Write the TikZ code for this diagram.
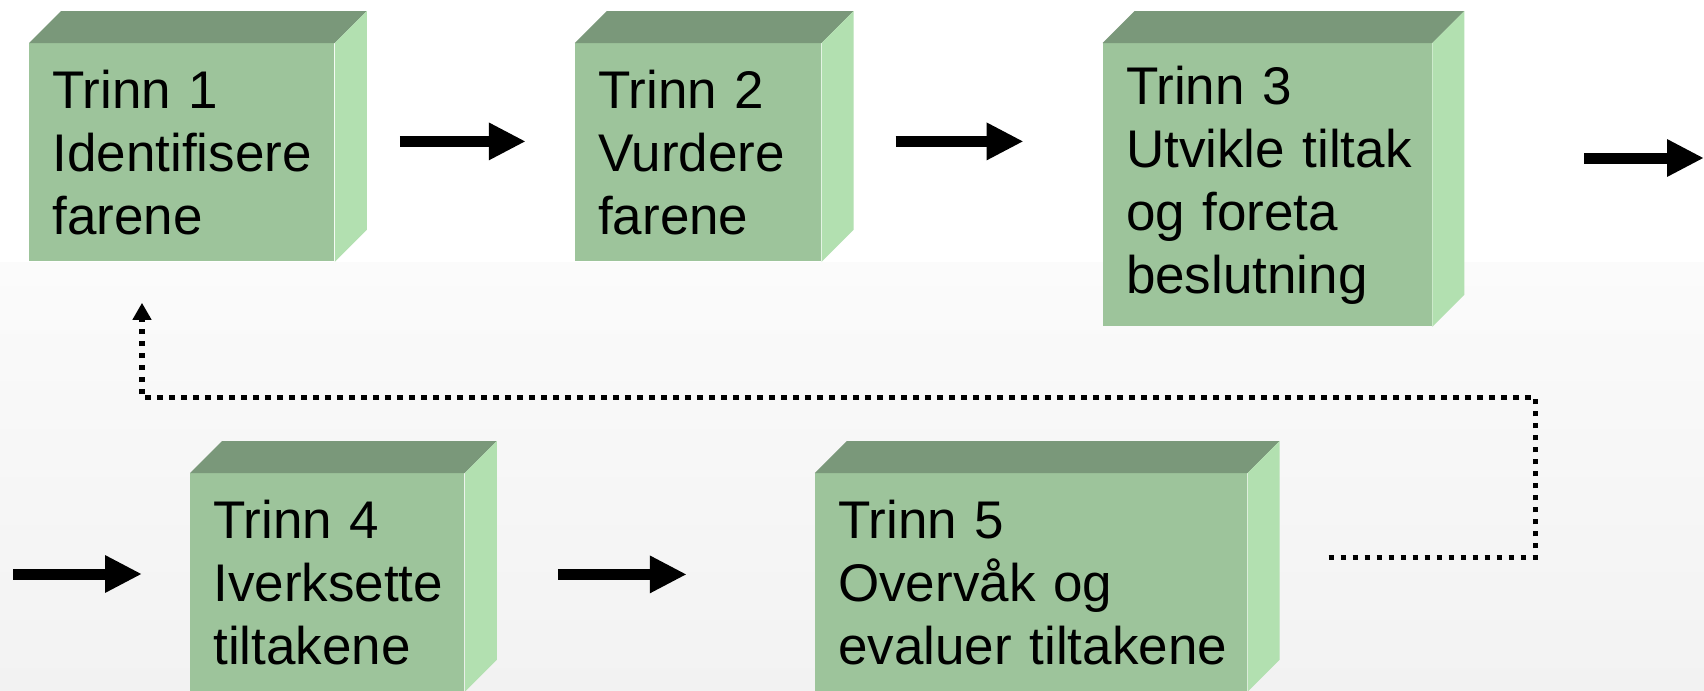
\documentclass[tikz,border=0pt]{standalone}
\usepackage{fontspec}
\setmainfont{Liberation Sans}
\usepackage{xcolor}
\definecolor{frontGreen}{HTML}{9DC49B}
\definecolor{topGreen}{HTML}{7A987A}
\definecolor{sideGreen}{HTML}{B2E0B0}
\definecolor{floorLight}{HTML}{FBFBFB}
\definecolor{floorGrey}{HTML}{F2F2F2}
\usetikzlibrary{arrows.meta,positioning,calc}
\hyphenpenalty=10000
\exhyphenpenalty=10000
\newcommand{\stepFont}{\fontsize{26.5pt}{31.5pt}\selectfont}
\tikzset{%
  stepBox/.style={%
    rectangle,
    fill=frontGreen,
    anchor=north west,
    inner xsep=11.5pt,
    inner ysep=0pt,
    align=left,
    font=\stepFont
  },
  topFace/.style={fill=topGreen},
  sideFace/.style={fill=sideGreen},
  flowArrow/.style={%
    -{Triangle[length=18.5pt,width=17.5pt]},
    line width=5.5pt
  },
  loopBack/.style={%
    -{Triangle[length=8.5pt,width=9pt]},
    line width=2.75pt,
    dash pattern=on 2.75pt off 3.25pt
  }
}

\begin{document}
\begin{tikzpicture}[x=0.5pt,y=-0.5pt]
            \useasboundingbox (0,0) rectangle (1704,691);
            \clip (0,0) rectangle (1704,691);
            % background
            \fill[white] (0,0) rectangle (1704,691);
            \shade[top color=floorLight, bottom color=floorGrey] (0,262) rectangle (1704,691);

            % the five steps
            \node[stepBox, minimum width=152.5pt, minimum height=109pt, text width=129.5pt] (s1) at (29,43) {Trinn 1\\Identifisere\\farene};
            \node[stepBox, minimum width=123pt, minimum height=109pt, text width=100pt, right=120pt of s1.north east, anchor=north west] (s2) {Trinn 2\\Vurdere\\farene};
            \node[stepBox, minimum width=164.5pt, minimum height=141.5pt, text width=141.5pt, right=140.5pt of s2.north east, anchor=north west] (s3) {Trinn 3\\Utvikle~tiltak\\og foreta\\beslutning};
            \node[stepBox, minimum width=137pt, minimum height=109pt, text width=114pt] (s4) at (190,473) {Trinn 4\\Iverksette\\tiltakene};
            \node[stepBox, minimum width=216pt, minimum height=109pt, text width=193pt, right=175pt of s4.north east, anchor=north west] (s5) {Trinn 5\\Overvåk og\\evaluer~tiltakene};

            % 3D faces
            \foreach \s in {s1,s2,s3,s4,s5} {
              \fill[topFace] (\s.north west) -- ++(32,-32) -- ([shift={(32,-32)}]\s.north east) -- (\s.north east) -- cycle;
              \fill[sideFace] (\s.north east) -- ++(32,-32) -- ([shift={(32,-32)}]\s.south east) -- (\s.south east) -- cycle;
            }

            \coordinate (wrapOut) at (1704,158);
            \coordinate (wrapIn) at (13,574);

            \draw[flowArrow, shorten <=32.5pt, shorten >=24.5pt] ([yshift=5.5pt]s1.east) -- ([yshift=5.5pt]s2.west);
            \draw[flowArrow, shorten <=37pt, shorten >=39.5pt] ([yshift=5.5pt]s2.east) -- ([yshift=5.5pt]s2.east -| s3.west);
            \draw[flowArrow, shorten <=76pt] (s3.east |- wrapOut) -- (wrapOut);
            \draw[flowArrow, shorten >=24pt] (wrapIn) -- (wrapIn -| s4.west);
            \draw[flowArrow, shorten <=46.5pt, shorten >=64pt] ([yshift=4pt]s4.east) -- ([yshift=4pt]s5.west);

            \draw[loopBack, shorten <=40.5pt, shorten >=20.5pt] ([yshift=12.5pt]s5.east) -- ++(288,0) -- ++(0,-160) -| ([xshift=56.5pt]s1.south west);
        \end{tikzpicture}
\end{document}
